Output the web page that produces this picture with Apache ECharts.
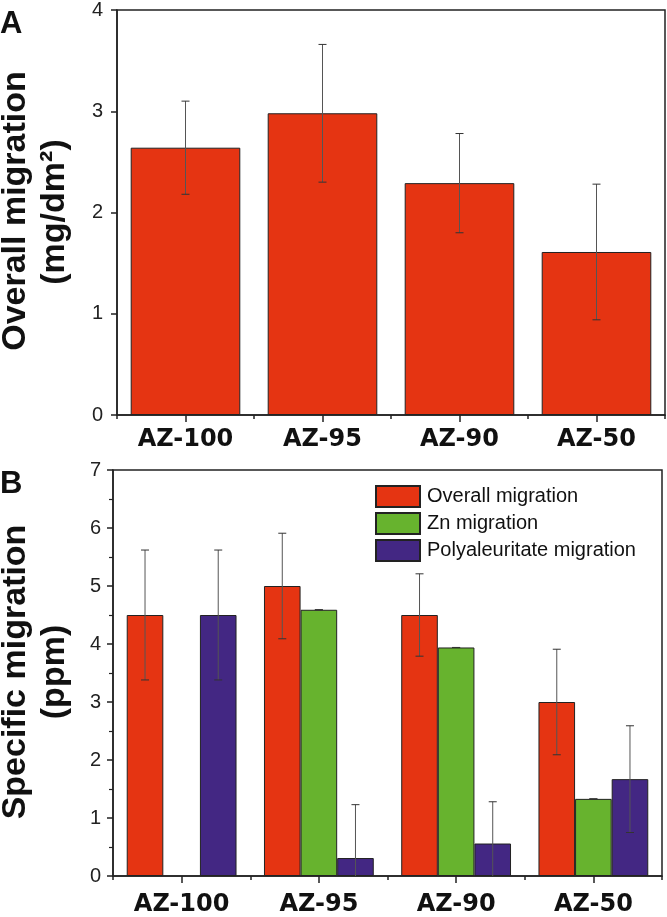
<!DOCTYPE html>
<html>
<head>
<meta charset="utf-8">
<script src="https://cdn.jsdelivr.net/npm/echarts@6/dist/echarts.min.js"></script>
<style>
html,body{margin:0;padding:0;background:#fff;}
#c{width:667px;height:917px;}
</style>
</head>
<body>
<div id="c"></div>
<script>
const categories = ['AZ-100', 'AZ-95', 'AZ-90', 'AZ-50'];
// Panel A: overall migration (mg/dm2)
const overallA = [2.64, 2.98, 2.29, 1.61];
const overallAErr = [0.46, 0.68, 0.49, 0.67];
// Panel B: specific migration (ppm)
const overallB = [4.5, 5.0, 4.5, 3.0];
const overallBErr = [1.12, 0.91, 0.71, 0.91];
const znB = [null, 4.59, 3.94, 1.33];
const znBErr = [null, 0, 0, 0];
const polyB = [4.5, 0.31, 0.56, 1.67];
const polyBErr = [1.12, 0.92, 0.72, 0.92];
const legendNames = ['Overall migration', 'Zn migration', 'Polyaleuritate migration'];

const RED = '#E53412', GREEN = '#67B32E', PURPLE = '#432783';
const INK = '#222';

function errData(vals, errs) {
  const out = [];
  vals.forEach((v, i) => { if (v != null && errs[i] != null) out.push([i, v, errs[i]]); });
  return out;
}
function errRender(slot, nSlots, frac) {
  return function (params, api) {
    const i = api.value(0), v = api.value(1), e = api.value(2);
    const cw = api.size([1, 0])[0];
    const bw = cw * frac / nSlots;
    const dx = -cw * frac / 2 + (slot + 0.5) * bw;
    const top = api.coord([i, v + e]);
    const low = v - e;
    const bot = api.coord([i, Math.max(0, low)]);
    const x = top[0] + dx;
    const st = { stroke: '#555', lineWidth: 1 };
    const ch = [
      { type: 'line', shape: { x1: x, y1: top[1], x2: x, y2: bot[1] }, style: st },
      { type: 'line', shape: { x1: x - 4, y1: top[1], x2: x + 4, y2: top[1] }, style: { stroke: '#333', lineWidth: 1 } }
    ];
    if (low >= 0) ch.push({ type: 'line', shape: { x1: x - 4, y1: bot[1], x2: x + 4, y2: bot[1] }, style: { stroke: '#333', lineWidth: 1 } });
    return { type: 'group', children: ch };
  };
}

const axisLine = { show: true, lineStyle: { color: INK, width: 1.5 } };
const xLabel = { fontFamily: 'DejaVu Sans', fontWeight: 'bold', fontSize: 24, color: '#111' };
const yLabel = { fontFamily: 'Liberation Sans, Arial', fontSize: 20, color: INK };
const titleFont = '"Liberation Sans", Arial';

function xAxes(gridIndex, margin) {
  return [
    { type: 'category', gridIndex, data: categories, boundaryGap: true,
      axisLine, axisTick: { show: true, alignWithLabel: true, length: 7, lineStyle: { color: INK, width: 1.5 } },
      axisLabel: Object.assign({ margin }, xLabel), splitLine: { show: false } },
    { type: 'category', gridIndex, data: categories, boundaryGap: true, position: 'bottom',
      axisLine: { show: false }, axisTick: { show: true, alignWithLabel: false, length: 4, lineStyle: { color: INK, width: 1.5 } },
      axisLabel: { show: false }, splitLine: { show: false } }
  ];
}

const chart = echarts.init(document.getElementById('c'), null, { renderer: 'canvas' });
chart.setOption({
  animation: false,
  backgroundColor: '#fff',
  grid: [
    { left: 117, top: 9, width: 548, height: 406, show: true, borderColor: INK, borderWidth: 1.5, backgroundColor: 'transparent' },
    { left: 113, top: 470, width: 549, height: 406, show: true, borderColor: INK, borderWidth: 1.5, backgroundColor: 'transparent' }
  ],
  xAxis: [].concat(xAxes(0, 13), xAxes(1, 17)),
  yAxis: [
    { type: 'value', gridIndex: 0, min: 0, max: 4, interval: 1, axisLine,
      axisTick: { show: true, length: 6, lineStyle: { color: INK, width: 1.5 } },
      axisLabel: Object.assign({ margin: 14 }, yLabel), splitLine: { show: false } },
    { type: 'value', gridIndex: 1, min: 0, max: 7, interval: 1, axisLine,
      axisTick: { show: true, length: 6, lineStyle: { color: INK, width: 1.5 } },
      minorTick: { show: true, splitNumber: 2, length: 4, lineStyle: { color: INK, width: 1.2 } },
      axisLabel: Object.assign({ margin: 12 }, yLabel), splitLine: { show: false } }
  ],
  legend: {
    data: legendNames, orient: 'vertical', left: 375, top: 485, padding: 0,
    itemWidth: 44, itemHeight: 21, itemGap: 4, icon: 'rect', selectedMode: false,
    textStyle: { fontFamily: 'Liberation Sans, Arial', fontSize: 20, color: '#111', padding: [0, 0, 0, 2] }
  },
  graphic: [
    { type: 'text', left: 0, top: 9, style: { text: 'A', font: 'bold 31px ' + titleFont, fill: '#111' } },
    { type: 'text', left: 0, top: 469, style: { text: 'B', font: 'bold 31px ' + titleFont, fill: '#111' } },
    { type: 'text', x: 16, y: 211, rotation: Math.PI / 2, style: { text: 'Overall migration', font: 'bold 34px ' + titleFont, fill: '#111', textAlign: 'center', textVerticalAlign: 'middle' } },
    { type: 'text', x: 55, y: 212, rotation: Math.PI / 2, style: { text: '(mg/dm²)', font: 'bold 34px ' + titleFont, fill: '#111', textAlign: 'center', textVerticalAlign: 'middle' } },
    { type: 'text', x: 16, y: 672, rotation: Math.PI / 2, style: { text: 'Specific migration', font: 'bold 34px ' + titleFont, fill: '#111', textAlign: 'center', textVerticalAlign: 'middle' } },
    { type: 'text', x: 55, y: 672, rotation: Math.PI / 2, style: { text: '(ppm)', font: 'bold 34px ' + titleFont, fill: '#111', textAlign: 'center', textVerticalAlign: 'middle' } }
  ],
  series: [
    { name: 'Overall migration (A)', type: 'bar', xAxisIndex: 0, yAxisIndex: 0, data: overallA, barWidth: '80%',
      itemStyle: { color: RED, borderColor: INK, borderWidth: 1 } },
    { type: 'custom', xAxisIndex: 0, yAxisIndex: 0, data: errData(overallA, overallAErr), encode: { x: 0, y: 1 },
      renderItem: errRender(0, 1, 0.8), z: 5 },
    { name: 'Overall migration', type: 'bar', xAxisIndex: 2, yAxisIndex: 1, data: overallB, barGap: '0%', barCategoryGap: '20%',
      itemStyle: { color: RED, borderColor: INK, borderWidth: 1 } },
    { name: 'Zn migration', type: 'bar', xAxisIndex: 2, yAxisIndex: 1, data: znB, barGap: '0%', barCategoryGap: '20%',
      itemStyle: { color: GREEN, borderColor: INK, borderWidth: 1 } },
    { name: 'Polyaleuritate migration', type: 'bar', xAxisIndex: 2, yAxisIndex: 1, data: polyB, barGap: '0%', barCategoryGap: '20%',
      itemStyle: { color: PURPLE, borderColor: INK, borderWidth: 1 } },
    { type: 'custom', xAxisIndex: 2, yAxisIndex: 1, data: errData(overallB, overallBErr), encode: { x: 0, y: 1 }, renderItem: errRender(0, 3, 0.8), z: 5 },
    { type: 'custom', xAxisIndex: 2, yAxisIndex: 1, data: errData(znB, znBErr), encode: { x: 0, y: 1 }, renderItem: errRender(1, 3, 0.8), z: 5 },
    { type: 'custom', xAxisIndex: 2, yAxisIndex: 1, data: errData(polyB, polyBErr), encode: { x: 0, y: 1 }, renderItem: errRender(2, 3, 0.8), z: 5 }
  ]
});
</script>
</body>
</html>
